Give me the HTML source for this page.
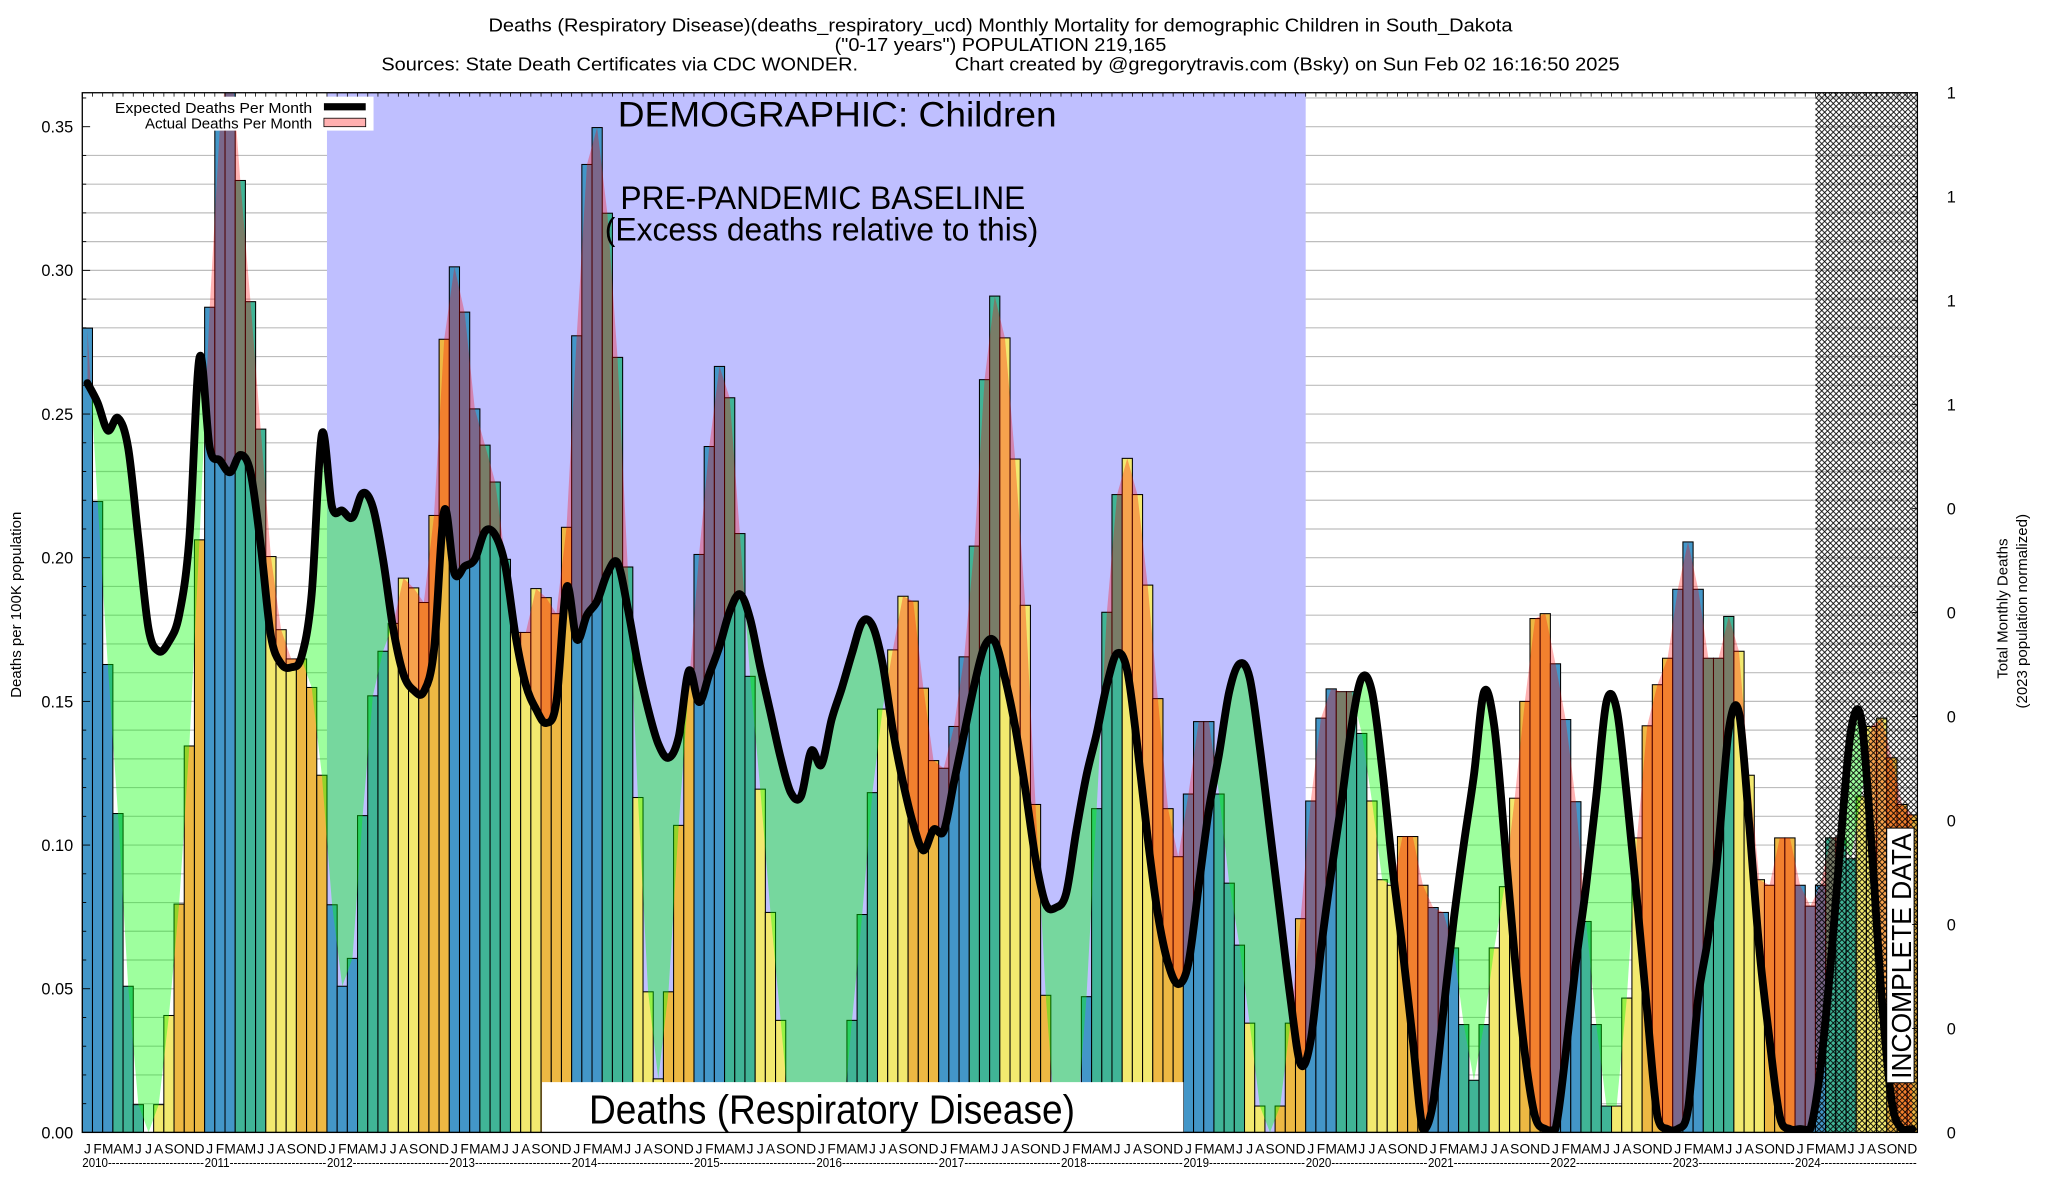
<!DOCTYPE html>
<html><head><meta charset="utf-8">
<style>
html,body{margin:0;padding:0;background:#fff;}
svg{display:block;font-family:"Liberation Sans",Arial,sans-serif;}
</style></head>
<body>
<svg id="s" width="2048" height="1200" viewBox="0 0 1568 918.75" preserveAspectRatio="none" xmlns="http://www.w3.org/2000/svg">
<defs>
<clipPath id="plot"><rect x="63" y="71" width="1405" height="796"/></clipPath>
<pattern id="hatch" patternUnits="userSpaceOnUse" width="4.4" height="4.4">
<path d="M0,0 L4.4,4.4 M4.4,0 L0,4.4" stroke="#000" stroke-width="0.65" fill="none"/>
</pattern>
</defs>
<g id="main"></g>
</svg>
<script>
(function(){
var NS="http://www.w3.org/2000/svg";
var svg=document.getElementById('s');
function el(tag,attrs,parent,text){var e=document.createElementNS(NS,tag);for(var k in attrs)e.setAttribute(k,attrs[k]);if(text!==undefined)e.textContent=text;(parent||svg).appendChild(e);return e;}
var defs=svg.querySelector('defs');
var X0=63,X1=1468,YT=71,YB=867,W=(X1-X0)/180;
function zy(z){var y=71+(z-20)*0.5332;return Math.min(y,867);}
var bars=[358,607,841,1055,1303,1473,1513,1473,1345,1185,958,662,
328,68,-50,146,320,503,686,791,833,833,874,1000,
1186,1303,1263,1058,886,822,782,717,731,752,627,374,
270,335,474,526,579,690,795,795,732,745,768,644,
369,123,70,193,400,701,1032,1311,1436,1311,1072,870,
683,528,413,458,653,858,1020,1197,1352,1513,1513,1513,
1513,1513,1513,1352,1200,1025,905,820,743,750,875,979,
990,930,830,671,432,312,372,546,756,1042,1316,1513,
1513,1513,1318,1048,766,597,545,597,727,890,1048,1117,
1027,923,923,1027,1155,1244,1356,1475,1513,1475,1356,1206,
1037,918,876,880,880,940,1037,1150,1158,1088,1088,1158,
1190,1197,1248,1358,1438,1358,1248,1160,1033,894,775,768,
840,920,1038,1210,1358,1475,1475,1320,1090,929,870,832,
733,665,733,832,832,772,822,1000,1150,1158,1090,1090,
1158,1188,1158,1090,1090,1120,1030,930,918,975,1042,1057];
var exp=[437,465,505,487,530,660,790,822,808,770,660,400,
530,548,565,540,565,670,800,840,845,830,740,510,
615,620,630,595,615,690,790,855,878,880,820,620,
710,700,690,650,655,700,800,870,905,925,895,730,
805,770,750,710,695,760,840,905,955,975,945,850,
895,855,815,765,740,775,845,910,975,1025,1030,965,
985,920,875,825,780,785,840,935,1010,1070,1108,1078,
1080,1010,940,870,815,808,860,930,1020,1120,1185,1190,
1170,1080,1000,940,870,825,850,960,1090,1200,1270,1300,
1270,1160,1050,970,880,840,860,960,1080,1200,1320,1415,
1380,1250,1140,1040,930,860,880,990,1130,1250,1380,1510,
1470,1340,1210,1100,1000,880,930,1090,1260,1400,1490,1508,
1508,1400,1270,1160,1030,895,905,1030,1180,1340,1490,1508,
1508,1480,1320,1230,1100,935,910,1070,1250,1380,1490,1508,
1508,1508,1420,1270,1090,935,920,1100,1320,1470,1508,1508];
var g=el('g',{});
for(var k=1;k<=36;k++){var y=YB-k*22;el('line',{x1:X0,x2:X1,y1:y,y2:y,stroke:'#bdbdbd','stroke-width':0.9},g);}
el('rect',{x:X0+24*W,y:YT,width:96*W,height:YB-YT,fill:'#bfbfff'},g);
var pg=el('g',{'clip-path':'url(#plot)'},g);
var cols=['#4396c8','#40b496','#f2e96f','#edb843'];
for(var i=0;i<180;i++){var t=zy(bars[i]);if(t>=866.5)continue;
el('rect',{x:(X0+i*W).toFixed(2),y:t.toFixed(2),width:W.toFixed(2),height:(YB-t).toFixed(2),fill:cols[Math.floor((i%12)/3)],stroke:'#000','stroke-width':0.8},pg);}
var ax=[],ay=[],ey=[];
for(var i=0;i<180;i++){ax.push(X0+(i+0.5)*W);ay.push(zy(bars[i]));ey.push(Math.min(zy(exp[i]),864.5));}
function cr(xs,ys){var d='M'+xs[0].toFixed(2)+','+ys[0].toFixed(2);var n=xs.length;
for(var i=0;i<n-1;i++){var x0=xs[Math.max(i-1,0)],y0=ys[Math.max(i-1,0)],x1=xs[i],y1=ys[i],x2=xs[i+1],y2=ys[i+1],x3=xs[Math.min(i+2,n-1)],y3=ys[Math.min(i+2,n-1)];
var c1x=x1+(x2-x0)/6,c1y=y1+(y2-y0)/6,c2x=x2-(x3-x1)/6,c2y=y2-(y3-y1)/6;
c1y=Math.min(c1y,866);c2y=Math.min(c2y,866);
d+=' C'+c1x.toFixed(2)+','+c1y.toFixed(2)+' '+c2x.toFixed(2)+','+c2y.toFixed(2)+' '+x2.toFixed(2)+','+y2.toFixed(2);}
return d;}
var ecurve=cr(ax,ey);
var apoly='M'+ax.map(function(x,i){return x.toFixed(2)+','+ay[i].toFixed(2);}).join(' L');
var xs=ax[0].toFixed(2),xe=ax[179].toFixed(2);
var c1=el('clipPath',{id:'aboveActual'},defs);el('path',{d:apoly+' L'+xe+',0 L'+xs+',0 Z'},c1);
var c2=el('clipPath',{id:'aboveExp'},defs);el('path',{d:ecurve+' L'+xe+',0 L'+xs+',0 Z'},c2);
var gg=el('g',{'clip-path':'url(#aboveActual)'},pg);
el('path',{d:ecurve+' L'+xe+','+YB+' L'+xs+','+YB+' Z',fill:'rgba(0,255,0,0.38)'},gg);
var pp=el('g',{'clip-path':'url(#aboveExp)'},pg);
el('path',{d:apoly+' L'+xe+','+YB+' L'+xs+','+YB+' Z',fill:'rgba(255,0,0,0.3)'},pp);
el('rect',{x:415,y:828.5,width:491,height:38.5,fill:'#fff'},pg);
el('rect',{x:X0+170*W,y:YT,width:10*W,height:YB-YT,fill:'url(#hatch)'},pg);
el('path',{d:ecurve,fill:'none',stroke:'#000','stroke-width':6,'stroke-linejoin':'round','stroke-linecap':'round'},pg);
el('text',{x:451,y:860,'font-size':31,textLength:372,lengthAdjust:'spacingAndGlyphs'},g,'Deaths (Respiratory Disease)');
el('text',{x:473,y:97,'font-size':27,textLength:336,lengthAdjust:'spacingAndGlyphs'},g,'DEMOGRAPHIC: Children');
el('text',{x:475,y:160,'font-size':25,textLength:310,lengthAdjust:'spacingAndGlyphs'},g,'PRE-PANDEMIC BASELINE');
el('text',{x:463,y:184,'font-size':25,textLength:332,lengthAdjust:'spacingAndGlyphs'},g,'(Excess deaths relative to this)');
el('rect',{x:1444.5,y:634,width:21,height:195,fill:'#fff',stroke:'#000','stroke-width':0.8},g);
el('text',{x:0,y:0,'font-size':21,transform:'translate(1463,826) rotate(-90)',textLength:188,lengthAdjust:'spacingAndGlyphs'},g,'INCOMPLETE DATA');
el('rect',{x:64,y:74,width:222,height:26,fill:'#fff'},g);
el('text',{x:239,y:86.5,'font-size':11,'text-anchor':'end',textLength:151,lengthAdjust:'spacingAndGlyphs'},g,'Expected Deaths Per Month');
el('text',{x:239,y:98.5,'font-size':11,'text-anchor':'end',textLength:128,lengthAdjust:'spacingAndGlyphs'},g,'Actual Deaths Per Month');
el('rect',{x:248,y:79,width:32,height:5.5,fill:'#000'},g);
el('rect',{x:248,y:90.5,width:32,height:6.5,fill:'#ffb0b0',stroke:'#000','stroke-width':0.6},g);
el('rect',{x:X0,y:YT,width:X1-X0,height:YB-YT,fill:'none',stroke:'#000','stroke-width':1},g);
for(var i=0;i<=180;i++){var x=X0+i*W;el('line',{x1:x,x2:x,y1:YT,y2:YT+3,stroke:'#000','stroke-width':0.6},g);}
for(var k=0;k<=36;k++){var y=YB-k*22;var L=(k%5==0)?6:3;el('line',{x1:X0,x2:X0+L,y1:y,y2:y,stroke:'#000','stroke-width':0.7},g);}
for(var k=0;k<=7;k++){var y=YB-k*110;el('text',{x:56,y:y+4.5,'font-size':12.5,'text-anchor':'end'},g,(k*0.05).toFixed(2));}
var rl=['1','1','1','1','0','0','0','0','0','0','0'];
for(var k=0;k<11;k++){var y=YT+k*79.6;el('text',{x:1494,y:y+4.5,'font-size':12.5,'text-anchor':'middle'},g,rl[k]);el('line',{x1:X1-4,x2:X1,y1:y,y2:y,stroke:'#000','stroke-width':0.7},g);}
el('text',{x:0,y:0,'font-size':11.5,'text-anchor':'middle',transform:'translate(16,463) rotate(-90)'},g,'Deaths per 100K population');
el('text',{x:0,y:0,'font-size':11.5,'text-anchor':'middle',transform:'translate(1537,466) rotate(-90)'},g,'Total Monthly Deaths');
el('text',{x:0,y:0,'font-size':11.5,'text-anchor':'middle',transform:'translate(1552,468) rotate(-90)'},g,'(2023 population normalized)');
var ml='JFMAMJJASOND';
for(var i=0;i<180;i++){el('text',{x:(X0+(i+0.5)*W).toFixed(2),y:883,'font-size':10.5,'text-anchor':'middle'},g,ml[i%12]);}
for(var yr=0;yr<15;yr++){el('text',{x:(X0+yr*12*W).toFixed(2),y:893.5,'font-size':10,textLength:(12*W-0.5).toFixed(2),lengthAdjust:'spacingAndGlyphs'},g,(2010+yr)+'-------------------------');}
el('text',{x:766,y:24,'font-size':14,'text-anchor':'middle',textLength:784,lengthAdjust:'spacingAndGlyphs'},g,'Deaths (Respiratory Disease)(deaths_respiratory_ucd) Monthly Mortality for demographic Children in South_Dakota');
el('text',{x:766,y:39,'font-size':14,'text-anchor':'middle',textLength:254,lengthAdjust:'spacingAndGlyphs'},g,'("0-17 years") POPULATION 219,165');
el('text',{x:292,y:54,'font-size':14,textLength:365,lengthAdjust:'spacingAndGlyphs'},g,'Sources: State Death Certificates via CDC WONDER.');
el('text',{x:731,y:54,'font-size':14,textLength:509,lengthAdjust:'spacingAndGlyphs'},g,'Chart created by @gregorytravis.com (Bsky) on Sun Feb 02 16:16:50 2025');
})();
</script>
</body></html>
